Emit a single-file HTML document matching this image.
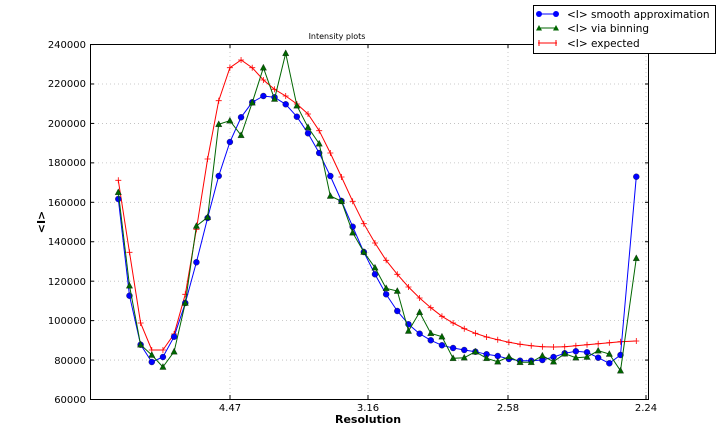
<!DOCTYPE html>
<html><head><meta charset="utf-8"><style>
body{margin:0;background:#fff;}
svg{display:block;font-family:"DejaVu Sans","Liberation Sans",sans-serif;}
</style></head><body>
<svg id="s" width="720" height="444" xmlns="http://www.w3.org/2000/svg">
<rect width="720" height="444" fill="#fff"/>
<g id="grid" stroke="#bbb" stroke-width="0.8" stroke-dasharray="1,3"></g>
<g id="series"></g>
<rect x="90.5" y="44.5" width="558" height="355" fill="none" stroke="#000" stroke-width="1"/>
<g id="ticks" stroke="#000" stroke-width="1"></g>
<g font-size="10" fill="#000" text-anchor="end" id="ylab">
<text x="86" y="403">60000</text><text x="86" y="364">80000</text><text x="86" y="324">100000</text><text x="86" y="285">120000</text><text x="86" y="245">140000</text><text x="86" y="206">160000</text><text x="86" y="166">180000</text><text x="86" y="127">200000</text><text x="86" y="87">220000</text><text x="86" y="48">240000</text>
</g>
<g font-size="10" fill="#000" text-anchor="middle">
<text x="230" y="411">4.47</text><text x="368" y="411">3.16</text><text x="508" y="411">2.58</text><text x="646" y="411">2.24</text>
</g>
<text x="368" y="423" font-size="11" font-weight="bold" text-anchor="middle">Resolution</text>
<text x="45" y="222" font-size="11" font-weight="bold" text-anchor="middle" transform="rotate(-90 45 222)">&lt;I&gt;</text>
<text x="337" y="39" font-size="8" text-anchor="middle">Intensity plots</text>
<rect x="533.5" y="5.5" width="182" height="48" fill="#fff" stroke="#000"/>
<line x1="538" y1="14" x2="557" y2="14" stroke="#00f"/><circle cx="539" cy="14" r="3" fill="#00f"/><circle cx="556" cy="14" r="3" fill="#00f"/>
<line x1="538" y1="28" x2="557" y2="28" stroke="#060"/><polygon points="539,25 542,30.5 536,30.5" fill="#060"/><polygon points="556,25 559,30.5 553,30.5" fill="#060"/>
<line x1="538" y1="43" x2="557" y2="43" stroke="#f00"/><line x1="539" y1="40" x2="539" y2="46" stroke="#f00"/><line x1="556" y1="40" x2="556" y2="46" stroke="#f00"/>
<g font-size="10.5" fill="#000"><text x="567" y="18">&lt;I&gt; smooth approximation</text><text x="567" y="32">&lt;I&gt; via binning</text><text x="567" y="47">&lt;I&gt; expected</text></g>
</svg>
<script>
var NS="http://www.w3.org/2000/svg";
function el(p,t,a){var e=document.createElementNS(NS,t);for(var k in a)e.setAttribute(k,a[k]);p.appendChild(e);return e;}
var g=document.getElementById('grid'),tk=document.getElementById('ticks'),sr=document.getElementById('series');
for(var k=1;k<9;k++){var y=399.5-k*39.44;el(g,'line',{x1:90,x2:649,y1:y,y2:y});}
[60,80,100,120,140,160,180,200,220,240].forEach(function(v,k){var y=399.5-k*39.44;el(tk,'line',{x1:90,x2:94,y1:y,y2:y});el(tk,'line',{x1:645,x2:649,y1:y,y2:y});});
[230,368,508,646].forEach(function(x){el(g,'line',{x1:x,x2:x,y1:44,y2:400});el(tk,'line',{x1:x,x2:x,y1:399,y2:395});el(tk,'line',{x1:x,x2:x,y1:44,y2:48});});
var B=[199,295.7,344.7,362,357,336.7,303,262.3,218,176,142,117.3,102.3,96,97.3,104.3,116.7,133.3,153,176,201,226.7,252,274.3,294.3,311,324.3,333.7,340.3,345.3,348,350,351.7,354.3,356,359,360.7,360.7,360,357,353.3,351.3,352.3,357.7,363.3,355,176.7];
var G=[192.3,285.7,344.7,355,367,351.7,303,226,217.3,124.3,120.7,135.3,102.7,67.7,99,53.3,105.7,127.3,143.7,196,201.3,232.7,252,267.7,288.3,291,331,312.3,333.3,336.7,358.3,357.7,351.7,358.3,361.7,356.7,362.3,362.3,355.7,361.7,353.7,357.7,357,350.7,354,370.7,258.3];
var R=[180.3,252.3,323,350,350,334,294.3,229.3,159,100.7,67.7,60,67.7,80,89.3,96,104,114,130.7,153,177,201.3,223.7,243,260.3,274.3,287,298,307.7,316.3,323,328.7,333.3,337,339.7,342.3,344.3,345.7,346.7,347,346.7,345.7,344.7,343.7,342.7,341.7,341];
function X(i){return i<46?118.3+11.16*i:636.3;}
function pts(a){return a.map(function(y,i){return X(i).toFixed(1)+','+y;}).join(' ');}
el(sr,'polyline',{points:pts(R),fill:'none',stroke:'#f00','stroke-width':1});
R.forEach(function(y,i){var x=X(i);el(sr,'path',{d:'M'+(x-3)+' '+y+'H'+(x+3)+'M'+x+' '+(y-3)+'V'+(y+3),stroke:'#f00','stroke-width':0.8});});
el(sr,'polyline',{points:pts(B),fill:'none',stroke:'#00f','stroke-width':1});
B.forEach(function(y,i){el(sr,'circle',{cx:X(i),cy:y,r:3,fill:'#00f',stroke:'#000','stroke-width':0.3});});
el(sr,'polyline',{points:pts(G),fill:'none',stroke:'#060','stroke-width':1});
G.forEach(function(y,i){var x=X(i);el(sr,'polygon',{points:x+','+(y-3.5)+' '+(x+3.2)+','+(y+2.5)+' '+(x-3.2)+','+(y+2.5),fill:'#060',stroke:'#000','stroke-width':0.3});});
</script>
</body></html>
